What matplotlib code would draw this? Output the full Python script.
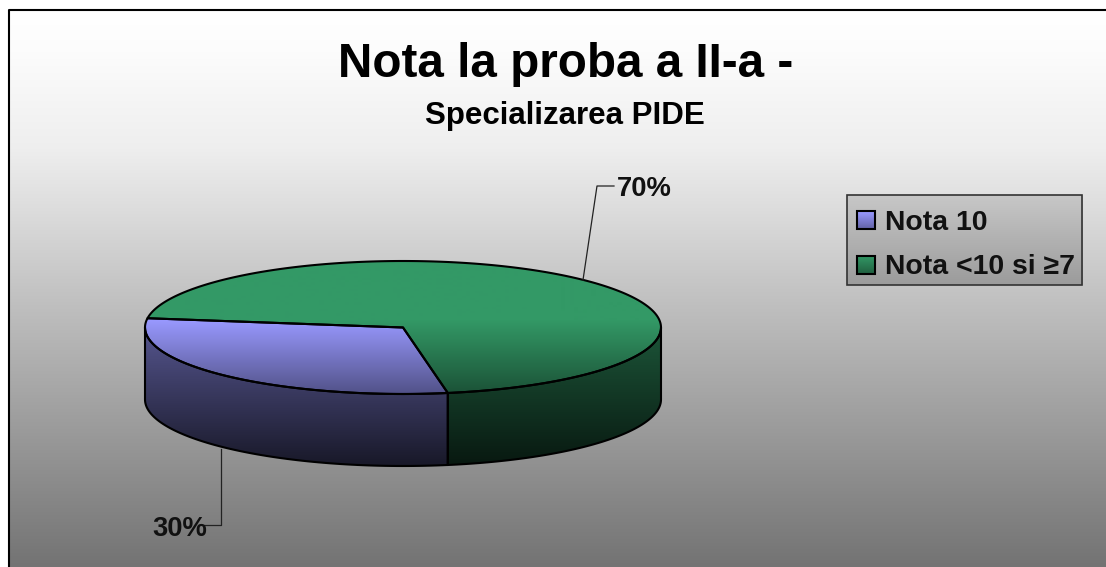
import matplotlib
matplotlib.use('Agg')
import matplotlib.pyplot as plt
from matplotlib.patches import Polygon, Rectangle
import numpy as np

plt.rcParams['font.family'] = ['Liberation Sans', 'DejaVu Sans']

labels = ['Nota 10', 'Nota <10 si ≥7']
shares = [30, 70]
pct_labels = ['30%', '70%']
colors = [(0x99 / 255, 0x99 / 255, 1.0), (0x33 / 255, 0x99 / 255, 0x66 / 255)]

title = 'Nota la proba a II-a -'
subtitle = 'Specializarea PIDE'

W, H = 1106, 567
cx, cy, rx, ry, depth = 403, 327.5, 258, 66.5, 72
start = 172


def ell(t, dy=0):
    t = np.radians(t)
    return np.column_stack([cx + rx * np.cos(t), cy - ry * np.sin(t) + dy])


def shaded(patch_xy, color, y0=320, y1=479, scale=1.0):
    # vertical gradient, clipped to the polygon
    ys = np.linspace(0, H, H + 1)
    f = scale * np.clip(1 - (ys - y0) / (y1 - y0), 0, 1)
    img = np.outer(f, color).reshape(-1, 1, 3)
    p = Polygon(patch_xy, closed=True, facecolor='none', edgecolor='black', linewidth=1.5, zorder=4, joinstyle='round')
    ax.add_patch(p)
    im = ax.imshow(img, extent=(0, W, H, 0), aspect='auto', zorder=3)
    im.set_clip_path(p)


fig = plt.figure(figsize=(W / 100, H / 100), dpi=100)
ax = fig.add_axes([0, 0, 1, 1])
ax.set_axis_off()

# background, nearly white at the top then fading to gray
f = np.interp(np.arange(H), [0, 40, 140, 190, 300, H], [1.0, 0.99, 0.935, 0.88, 0.75, 0.45]).reshape(-1, 1)
ax.imshow(np.repeat(f, 3, axis=1).reshape(-1, 1, 3), extent=(8, W, H, 9), aspect='auto', zorder=1, vmin=0, vmax=1)
ax.plot([8.5, 8.5, W], [H, 9.5, 9.5], color='black', linewidth=1.5, zorder=2)

# slices, angles come from the shares
ang_blue = shares[0] / sum(shares) * 360
end_blue = start + ang_blue
center = np.array([[cx, cy]])

# side walls
t = np.linspace(max(start, 180), end_blue, 80)
shaded(np.vstack([ell(t), ell(t[::-1], depth)]), colors[0], y0=335, y1=520, scale=0.54)
t = np.linspace(end_blue, 360, 80)
shaded(np.vstack([ell(t), ell(t[::-1], depth)]), colors[1], y0=335, y1=520, scale=0.54)

# top faces
t = np.linspace(start, end_blue, 120)
shaded(np.vstack([center, ell(t)]), colors[0])
t = np.linspace(end_blue, start + 360, 240)
shaded(np.vstack([center, ell(t)]), colors[1])

# leader lines
ax.plot([583, 597, 614], [280, 186, 186], color='#222222', linewidth=0.9, zorder=5)
ax.plot([220.5, 220.5, 204], [449, 525, 525], color='#222222', linewidth=0.9, zorder=5)
ax.text(617, 196, pct_labels[1], fontsize=19.7, fontweight='bold', ha='left', va='baseline', color='#111111', zorder=6)
ax.text(152, 536, pct_labels[0], fontsize=19.7, fontweight='bold', ha='left', va='baseline', color='#111111', zorder=6)

# titles
ax.text(566, 77, title, fontsize=34.3, fontweight='bold', ha='center', va='baseline', color='black', zorder=6)
ax.text(565, 124, subtitle, fontsize=22.5, fontweight='bold', ha='center', va='baseline', color='black', zorder=6)

# legend
box = Rectangle((846.5, 195), 235.5, 90, facecolor='none', edgecolor='#333333', linewidth=1.2, zorder=5)
ax.add_patch(box)
g = np.linspace(0.78, 0.61, 90).reshape(-1, 1)
lg = ax.imshow(np.repeat(g, 3, axis=1).reshape(-1, 1, 3), extent=(846, 1082, 285, 195), aspect='auto', zorder=4, vmin=0, vmax=1)
lg.set_clip_path(box)
for i, lab in enumerate(labels):
    y = 220 + i * 44.5
    sw = Rectangle((856.5, y - 9), 18, 18, facecolor='none', edgecolor='black', linewidth=1.5, zorder=7)
    ax.add_patch(sw)
    c = np.outer(np.linspace(1.0, 0.65, 18), colors[i]).reshape(-1, 1, 3)
    im = ax.imshow(c, extent=(856, 875, y + 9, y - 9), aspect='auto', zorder=6)
    im.set_clip_path(sw)
    ax.text(885, y + 10, lab, fontsize=20.4, fontweight='bold', ha='left', va='baseline', color='#111111', zorder=7)

ax.set_xlim(0, W)
ax.set_ylim(H, 0)

plt.savefig('out.png', dpi=100, facecolor='white')
